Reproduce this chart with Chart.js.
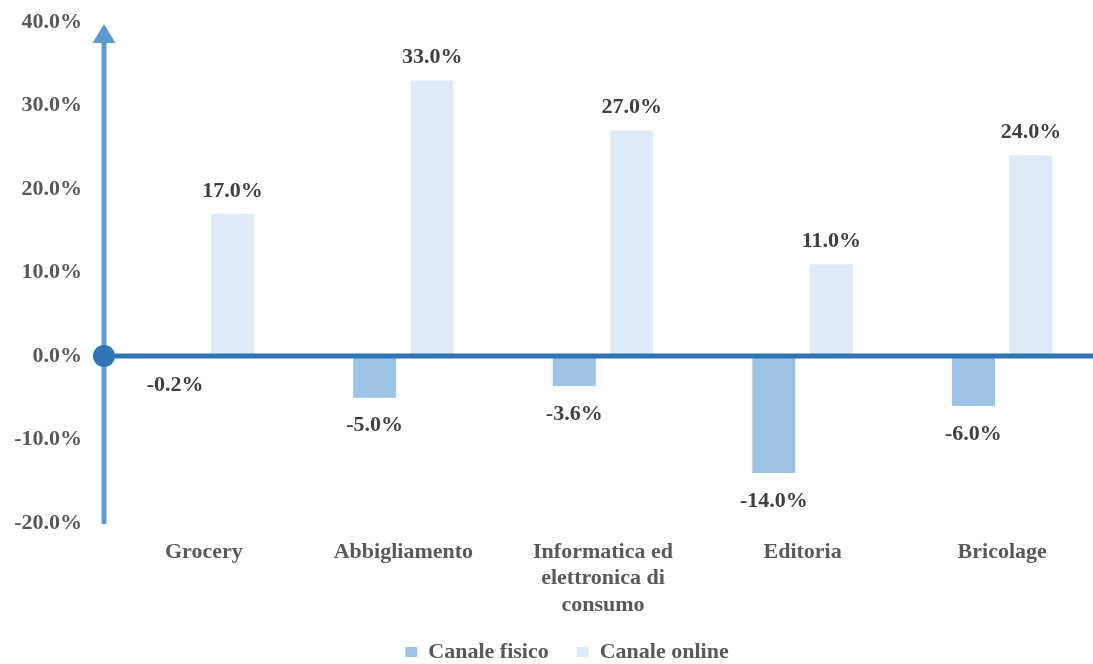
<!DOCTYPE html>
<html>
<head>
<meta charset="utf-8">
<script src="https://cdn.jsdelivr.net/npm/chart.js@4.4.0/dist/chart.umd.min.js"></script>
<style>
  html, body { margin: 0; padding: 0; background: #fff; overflow: hidden; }
  #wrap { width: 1134px; height: 673px; }
</style>
</head>
<body>
<div id="wrap"><canvas id="chart" width="1134" height="673"></canvas></div>
<script>
const categories = [
  'Grocery',
  'Abbigliamento',
  [ 'Informatica ed', 'elettronica di', 'consumo' ],
  'Editoria',
  'Bricolage'
]
const canaleFisico = [ -0.2, -5.0, -3.6, -14.0, -6.0 ]
const canaleOnline = [ 17.0, 33.0, 27.0, 11.0, 24.0 ]
const yMin = -20
const yMax = 40
const yStep = 10

const FONT = 'Liberation Serif, Times New Roman, serif'
const GREY = '#595959'

// axis lines: arrowed vertical axis and a thick zero line starting from a dot
const axisLines = {
  id: 'axisLines',
  afterDatasetsDraw( chart ) {
    const { ctx, chartArea, scales: { y } } = chart
    const x0 = chartArea.left
    const zero = y.getPixelForValue( 0 )
    const top = y.getPixelForValue( yMax )
    ctx.save( )
    ctx.fillStyle = '#5b9bd5'
    ctx.fillRect( x0 - 2.5, top + 18, 5, chartArea.bottom + 1 - ( top + 18 ) )
    ctx.beginPath( )
    ctx.moveTo( x0, top + 2 )
    ctx.lineTo( x0 + 11.5, top + 21 )
    ctx.lineTo( x0 - 11.5, top + 21 )
    ctx.closePath( )
    ctx.fill( )
    ctx.fillStyle = '#2e75b6'
    ctx.fillRect( x0, zero - 2.5, chart.width - x0, 5 )
    ctx.beginPath( )
    ctx.arc( x0, zero, 11, 0, Math.PI * 2 )
    ctx.fill( )
    ctx.restore( )
  }
}

// value labels above positive bars and below negative ones
const valueLabels = {
  id: 'valueLabels',
  afterDatasetsDraw( chart ) {
    const { ctx } = chart
    ctx.save( )
    ctx.font = `bold 22px ${FONT}`
    ctx.fillStyle = '#404040'
    ctx.textAlign = 'center'
    ctx.textBaseline = 'middle'
    chart.data.datasets.forEach( ( ds, i ) => {
      chart.getDatasetMeta( i ).data.forEach( ( bar, j ) => {
        const v = ds.data[ j ]
        const y = v >= 0 ? bar.y - 23 : bar.y + 28
        ctx.fillText( `${v.toFixed( 1 )}%`, bar.x, y )
      } )
    } )
    ctx.restore( )
  }
}

const chart = new Chart( document.getElementById( 'chart' ), {
  type: 'bar',
  data: {
    labels: categories,
    datasets: [ {
      label: 'Canale fisico',
      data: canaleFisico,
      backgroundColor: '#9dc3e6'
    }, {
      label: 'Canale online',
      data: canaleOnline,
      backgroundColor: '#deebf7'
    } ]
  },
  options: {
    responsive: false,
    animation: false,
    events: [ ],
    devicePixelRatio: 1,
    categoryPercentage: 0.576,
    barPercentage: 0.748,
    layout: { padding: { top: 22, right: 0, left: 0, bottom: 0 } },
    plugins: {
      tooltip: { enabled: false },
      legend: {
        position: 'bottom',
        labels: {
          boxWidth: 12,
          boxHeight: 10,
          padding: 28,
          color: GREY,
          font: { family: FONT, size: 22, weight: 'bold' }
        }
      }
    },
    scales: {
      x: {
        grid: { display: false, drawTicks: false },
        border: { display: false },
        ticks: {
          padding: 16,
          maxRotation: 0,
          autoSkip: false,
          color: GREY,
          font: { family: FONT, size: 22, weight: 'bold', lineHeight: 1.2 }
        },
        afterFit( scale ) {
          scale.height = 90
          scale.paddingLeft = 0
          scale.paddingRight = 32
        }
      },
      y: {
        min: yMin,
        max: yMax,
        grid: { display: false, drawTicks: false },
        border: { display: false },
        ticks: {
          stepSize: yStep,
          padding: 22,
          color: GREY,
          font: { family: FONT, size: 22, weight: 'bold' },
          callback: ( v ) => `${v.toFixed( 1 )}%`
        },
        afterFit( scale ) {
          scale.width = 104
          scale.paddingTop = 0
          scale.paddingBottom = 0
        }
      }
    }
  },
  plugins: [ axisLines, valueLabels ]
} )
</script>
</body>
</html>
